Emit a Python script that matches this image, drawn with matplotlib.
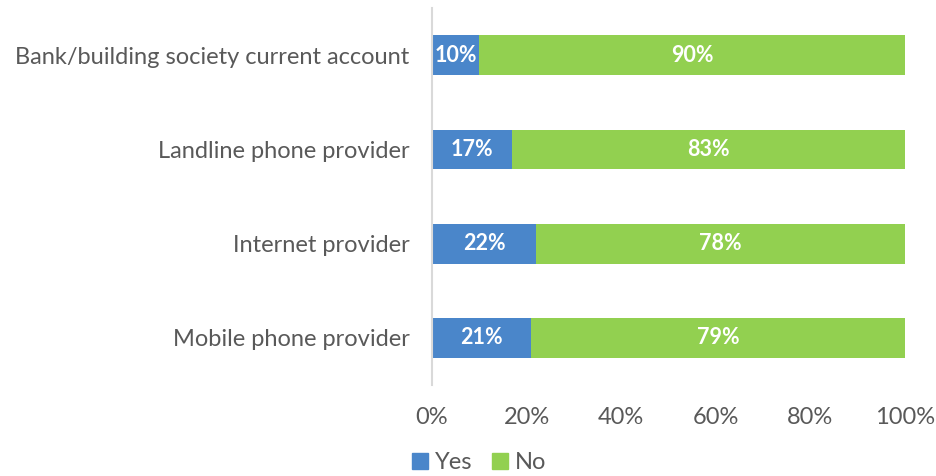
import matplotlib.pyplot as plt
import matplotlib.patches as mpatches

categories = ['Bank/building society current account', 'Landline phone provider',
              'Internet provider', 'Mobile phone provider']
yes_vals = [10, 17, 22, 21]
no_vals = [90, 83, 78, 79]
xticks = [0, 20, 40, 60, 80, 100]

plt.rcParams['font.family'] = ['Lato', 'DejaVu Sans']
text_col = '#595959'
blue = '#4A86CA'
green = '#92D050'

fig = plt.figure(figsize=(9.36, 4.76), dpi=100)
ax = fig.add_axes([0.4615, 0.191, 0.5055, 0.792])

ypos = list(range(len(categories)))[::-1]
ax.barh(ypos, yes_vals, height=0.42, color=blue)
ax.barh(ypos, no_vals, left=yes_vals, height=0.42, color=green)

for y, a, b in zip(ypos, yes_vals, no_vals):
    ax.text(a / 2, y, f'{a}%', ha='center', va='center', color='white',
            fontsize=15.5, fontweight='bold')
    ax.text(a + b / 2, y, f'{b}%', ha='center', va='center', color='white',
            fontsize=15.5, fontweight='bold')

ax.set_ylim(-0.5, 3.5)
ax.set_xlim(0, 100)
ax.set_yticks(ypos)
ax.set_yticklabels(categories, fontsize=17, color=text_col)
ax.set_xticks(xticks)
ax.set_xticklabels([f'{t}%' for t in xticks], fontsize=17, color=text_col)
ax.tick_params(axis='both', length=0)
ax.tick_params(axis='x', pad=16)
ax.tick_params(axis='y', pad=16)
for s in ['top', 'right', 'bottom']:
    ax.spines[s].set_visible(False)
ax.spines['left'].set_color('#D9D9D9')
ax.spines['left'].set_linewidth(1.5)

yes_patch = mpatches.Patch(color=blue, label='Yes')
no_patch = mpatches.Patch(color=green, label='No')
fig.legend(handles=[yes_patch, no_patch], loc='center', bbox_to_anchor=(0.512, 0.028),
           ncol=2, frameon=False, fontsize=17, labelcolor=text_col,
           handlelength=0.7, handleheight=0.7, handletextpad=0.3, columnspacing=0.8)

fig.savefig('out.png')
